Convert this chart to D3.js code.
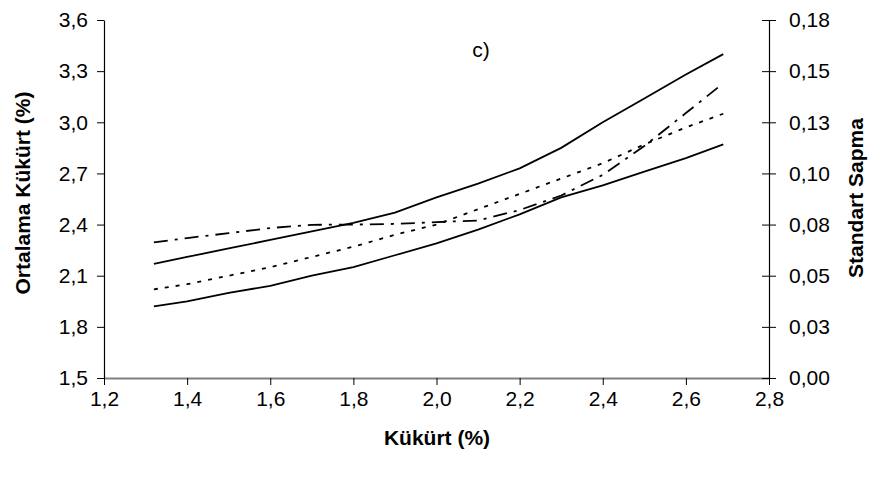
<!DOCTYPE html>
<html>
<head>
<meta charset="utf-8">
<script src="https://cdn.jsdelivr.net/npm/d3@7"></script>
<style>
  html, body { margin: 0; padding: 0; background: #fff; }
  svg { display: block; }
  text { font-family: "Liberation Sans", Arial, sans-serif; fill: #000; }
</style>
</head>
<body>
<svg id="chart" width="878" height="480"></svg>
<script>
// ---- data ----
const xValues = [1.32, 1.4, 1.5, 1.6, 1.7, 1.8, 1.9, 2.0, 2.1, 2.2, 2.3, 2.4, 2.5, 2.6, 2.69];
const upperSolid = [2.17, 2.21, 2.26, 2.31, 2.36, 2.41, 2.47, 2.56, 2.64, 2.73, 2.85, 3.00, 3.14, 3.28, 3.40];
const lowerSolid = [1.92, 1.95, 2.00, 2.04, 2.10, 2.15, 2.22, 2.29, 2.37, 2.46, 2.56, 2.63, 2.71, 2.79, 2.87];
const meanDotted = [2.02, 2.05, 2.10, 2.15, 2.21, 2.27, 2.34, 2.40, 2.49, 2.58, 2.67, 2.76, 2.87, 2.97, 3.05];
const stdDashDot = [0.0663, 0.0684, 0.0708, 0.0733, 0.0749, 0.0750, 0.0753, 0.0762, 0.0770, 0.0821, 0.0892, 0.0993, 0.1134, 0.1295, 0.1441];

const xTicks = [1.2, 1.4, 1.6, 1.8, 2.0, 2.2, 2.4, 2.6, 2.8];
const yLeftTicks = [1.5, 1.8, 2.1, 2.4, 2.7, 3.0, 3.3, 3.6];
const yRightTicks = [0, 0.025, 0.05, 0.075, 0.1, 0.125, 0.15, 0.175];
const yRightTickLabels = ["0,00", "0,03", "0,05", "0,08", "0,10", "0,13", "0,15", "0,18"];

const xTitle = "Kükürt (%)";
const yLeftTitle = "Ortalama Kükürt (%)";
const yRightTitle = "Standart Sapma";
const panelLabel = "c)";

// ---- layout ----
const svg = d3.select("#chart");
const L = 104, R = 769, T = 20, B = 378;
const FS = 21;

const x = d3.scaleLinear().domain([1.2, 2.8]).range([L, R]);
const yL = d3.scaleLinear().domain([1.5, 3.6]).range([B, T]);
const yR = d3.scaleLinear().domain([0, 0.175]).range([B, T]);

const comma = v => d3.format(".1f")(v).replace(".", ",");

// bottom axis
const gx = svg.append("g").attr("transform", `translate(0,${B})`)
  .call(d3.axisBottom(x).tickValues(xTicks).tickFormat(comma).tickSizeInner(7).tickSizeOuter(0).tickPadding(6));
gx.select(".domain").attr("stroke", "#808080").attr("stroke-width", 2);
gx.selectAll(".tick line").attr("stroke", "#000");
gx.selectAll("text").attr("font-size", FS).attr("font-family", "Liberation Sans, Arial, sans-serif");

// left axis
const gl = svg.append("g").attr("transform", `translate(${L},0)`)
  .call(d3.axisLeft(yL).tickValues(yLeftTicks).tickFormat(comma).tickSizeInner(7).tickSizeOuter(0).tickPadding(9));
gl.select(".domain").attr("stroke", "#000").attr("stroke-width", 1.2);
gl.selectAll("text").attr("font-size", FS).attr("font-family", "Liberation Sans, Arial, sans-serif");

// right axis (cross ticks)
const gr = svg.append("g").attr("transform", `translate(${R},0)`)
  .call(d3.axisRight(yR).tickValues(yRightTicks).tickFormat((d, i) => yRightTickLabels[i]).tickSizeInner(7).tickSizeOuter(0).tickPadding(13));
gr.select(".domain").attr("stroke", "#000").attr("stroke-width", 1.2);
gr.selectAll(".tick line").attr("x1", -7).attr("x2", 7);
gr.selectAll("text").attr("font-size", FS).attr("font-family", "Liberation Sans, Arial, sans-serif");

// lines
const lineL = d3.line().x((d, i) => x(xValues[i])).y(d => yL(d));
const lineR = d3.line().x((d, i) => x(xValues[i])).y(d => yR(d));

svg.append("path").datum(upperSolid).attr("d", lineL)
  .attr("fill", "none").attr("stroke", "#000").attr("stroke-width", 1.8);
svg.append("path").datum(lowerSolid).attr("d", lineL)
  .attr("fill", "none").attr("stroke", "#000").attr("stroke-width", 1.8);
svg.append("path").datum(meanDotted).attr("d", lineL)
  .attr("fill", "none").attr("stroke", "#000").attr("stroke-width", 1.8).attr("stroke-dasharray", "4,7");
svg.append("path").datum(stdDashDot).attr("d", lineR)
  .attr("fill", "none").attr("stroke", "#000").attr("stroke-width", 1.8).attr("stroke-dasharray", "14,7,3,7");

// titles
svg.append("text").attr("x", 437).attr("y", 445).attr("text-anchor", "middle")
  .attr("font-size", FS).attr("font-weight", "bold").text(xTitle);
svg.append("text").attr("transform", `translate(30,${193}) rotate(-90)`).attr("text-anchor", "middle")
  .attr("font-size", FS).attr("font-weight", "bold").text(yLeftTitle);
svg.append("text").attr("transform", `translate(863,${198}) rotate(-90)`).attr("text-anchor", "middle")
  .attr("font-size", FS).attr("font-weight", "bold").text(yRightTitle);
svg.append("text").attr("x", 481).attr("y", 57).attr("text-anchor", "middle")
  .attr("font-size", FS).text(panelLabel);
</script>
</body>
</html>
